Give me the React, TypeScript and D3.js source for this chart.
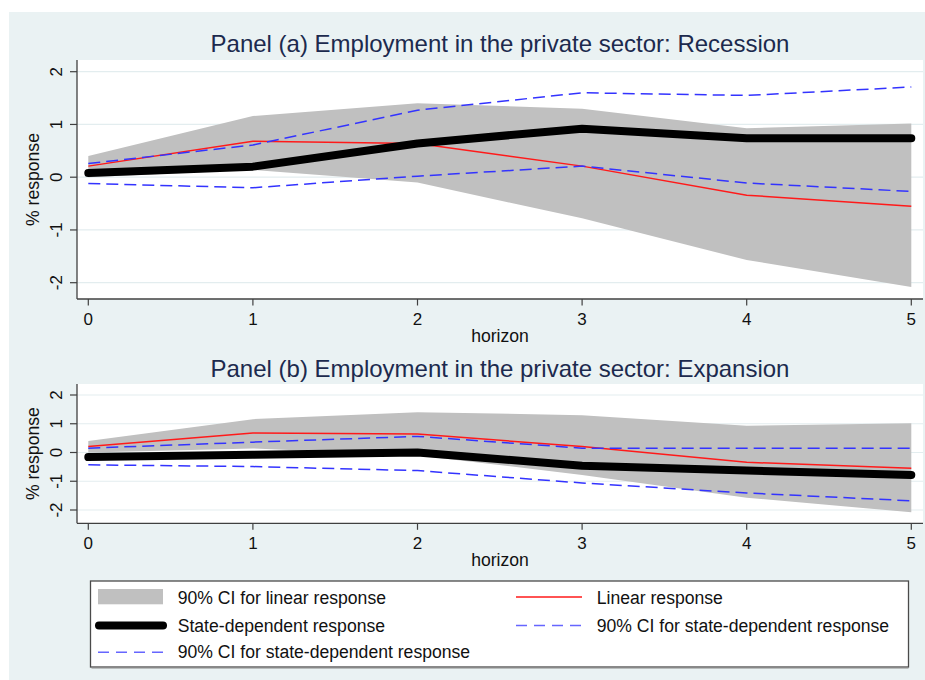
import React from "react";
import * as d3 from "d3";

// Horizons (years after the shock)
const horizons = [0, 1, 2, 3, 4, 5];
const xTicks = [0, 1, 2, 3, 4, 5];
const yTicks = [-2, -1, 0, 1, 2];

// Linear model: point estimate and 90% confidence band (same in both panels)
const linearResponse = [0.21, 0.68, 0.64, 0.21, -0.34, -0.55];
const linearUpper = [0.4, 1.16, 1.4, 1.3, 0.93, 1.02];
const linearLower = [0.0, 0.14, -0.1, -0.78, -1.57, -2.08];

// State-dependent model, recession state
const recessionResponse = [0.08, 0.2, 0.64, 0.92, 0.74, 0.74];
const recessionUpper = [0.26, 0.61, 1.27, 1.6, 1.55, 1.71];
const recessionLower = [-0.12, -0.2, 0.02, 0.21, -0.11, -0.27];

// State-dependent model, expansion state
const expansionResponse = [-0.16, -0.08, 0.0, -0.46, -0.63, -0.78];
const expansionUpper = [0.15, 0.36, 0.56, 0.15, 0.15, 0.15];
const expansionLower = [-0.43, -0.49, -0.63, -1.06, -1.41, -1.68];

const titleA = "Panel (a) Employment in the private sector: Recession";
const titleB = "Panel (b) Employment in the private sector: Expansion";
const legendLabels = [
  "90% CI for linear response",
  "Linear response",
  "State-dependent response",
  "90% CI for state-dependent response",
  "90% CI for state-dependent response",
];

const FONT = "'Liberation Sans', Arial, Helvetica, sans-serif";
const BG = "#eaf2f3";
const BAND = "#c0c0c0";
const RED = "#ff1a1a";
const BLUE = "#3333ff";
const TITLE_COLOR = "#1c2a4e";
const AXIS = "#404040";

const plotLeft = 77;
const plotRight = 923;
const x = d3.scaleLinear().domain([0, 5]).range([88.3, 911.3]);

type PanelProps = {
  title: string;
  top: number;
  bottom: number;
  yRange: [number, number];
  titleY: number;
  state: number[];
  upper: number[];
  lower: number[];
};

function Panel({ title, top, bottom, yRange, titleY, state, upper, lower }: PanelProps) {
  const y = d3.scaleLinear().domain([-2, 2]).range(yRange);
  const line = d3
    .line<number>()
    .x((_, i) => x(horizons[i]))
    .y((d) => y(d));
  const band = d3
    .area<number>()
    .x((_, i) => x(horizons[i]))
    .y0((_, i) => y(linearLower[i]))
    .y1((d) => y(d));
  const midY = (top + bottom) / 2;

  return (
    <g>
      <text
        x={(plotLeft + plotRight) / 2}
        y={titleY}
        textAnchor="middle"
        fontSize={24}
        fill={TITLE_COLOR}
        fontFamily={FONT}
      >
        {title}
      </text>
      <rect x={plotLeft} y={top} width={plotRight - plotLeft} height={bottom - top} fill="#fff" />
      {yTicks.map((t) => (
        <line
          key={"g" + t}
          x1={plotLeft}
          x2={plotRight}
          y1={y(t)}
          y2={y(t)}
          stroke="#e3edef"
          strokeWidth={1.2}
        />
      ))}
      <path d={band(linearUpper) ?? ""} fill={BAND} />
      <path d={line(linearResponse) ?? ""} fill="none" stroke={RED} strokeWidth={1.5} />
      <path
        d={line(state) ?? ""}
        fill="none"
        stroke="#000"
        strokeWidth={8}
        strokeLinecap="round"
        strokeLinejoin="round"
      />
      <path d={line(upper) ?? ""} fill="none" stroke={BLUE} strokeWidth={1.5} strokeDasharray="12 6" />
      <path d={line(lower) ?? ""} fill="none" stroke={BLUE} strokeWidth={1.5} strokeDasharray="12 6" />

      {/* axes */}
      <line x1={plotLeft} x2={plotLeft} y1={top} y2={bottom} stroke={AXIS} strokeWidth={1.3} />
      <line x1={plotLeft} x2={plotRight} y1={bottom} y2={bottom} stroke={AXIS} strokeWidth={1.3} />
      {yTicks.map((t) => (
        <g key={"y" + t}>
          <line x1={plotLeft - 7} x2={plotLeft} y1={y(t)} y2={y(t)} stroke={AXIS} strokeWidth={1.2} />
          <text
            transform={`translate(61.5,${y(t)}) rotate(-90)`}
            textAnchor="middle"
            fontSize={17}
            fill="#111"
            fontFamily={FONT}
          >
            {t}
          </text>
        </g>
      ))}
      {xTicks.map((t) => (
        <g key={"x" + t}>
          <line x1={x(t)} x2={x(t)} y1={bottom} y2={bottom + 6.5} stroke={AXIS} strokeWidth={1.2} />
          <text x={x(t)} y={bottom + 26} textAnchor="middle" fontSize={17} fill="#111" fontFamily={FONT}>
            {t}
          </text>
        </g>
      ))}
      <text
        transform={`translate(39,${midY}) rotate(-90)`}
        textAnchor="middle"
        fontSize={17.6}
        fill="#111"
        fontFamily={FONT}
      >
        % response
      </text>
      <text
        x={(plotLeft + plotRight) / 2}
        y={bottom + 43}
        textAnchor="middle"
        fontSize={17.6}
        fill="#111"
        fontFamily={FONT}
      >
        horizon
      </text>
    </g>
  );
}

function Legend() {
  const left = 90.5;
  const top = 581;
  const w = 818;
  const h = 86;
  const rows = [597, 625.5, 652.3];
  const baselines = [604.3, 631.7, 658.3];
  const leftKey = [98, 163];
  const rightKey = [516, 582];
  const leftText = 177.7;
  const rightText = 596.7;
  const textProps = { fontSize: 17.6, fill: "#111", fontFamily: FONT };
  return (
    <g>
      <rect x={left} y={top} width={w} height={h} fill="#fff" stroke="#4a4a4a" strokeWidth={1.3} />
      <line x1={left + 1} x2={left + w} y1={top + h + 0.8} y2={top + h + 0.8} stroke="#8a8a8a" strokeWidth={1.2} />
      {/* left column */}
      <rect x={leftKey[0]} y={589} width={leftKey[1] - leftKey[0]} height={15.3} fill={BAND} />
      <text x={leftText} y={baselines[0]} {...textProps}>
        {legendLabels[0]}
      </text>
      <line x1={99} x2={163} y1={rows[1]} y2={rows[1]} stroke="#000" strokeWidth={8} strokeLinecap="round" />
      <text x={leftText} y={baselines[1]} {...textProps}>
        {legendLabels[2]}
      </text>
      <line
        x1={leftKey[0]}
        x2={leftKey[1]}
        y1={rows[2]}
        y2={rows[2]}
        stroke={BLUE}
        strokeWidth={1.5}
        strokeDasharray="11 7"
        opacity={0.75}
      />
      <text x={leftText} y={baselines[2]} {...textProps}>
        {legendLabels[4]}
      </text>
      {/* right column */}
      <line x1={rightKey[0]} x2={rightKey[1]} y1={rows[0]} y2={rows[0]} stroke={RED} strokeWidth={1.5} />
      <text x={rightText} y={baselines[0]} {...textProps}>
        {legendLabels[1]}
      </text>
      <line
        x1={rightKey[0]}
        x2={rightKey[1]}
        y1={rows[1]}
        y2={rows[1]}
        stroke={BLUE}
        strokeWidth={1.5}
        strokeDasharray="11 7"
        opacity={0.75}
      />
      <text x={rightText} y={baselines[1]} {...textProps}>
        {legendLabels[3]}
      </text>
    </g>
  );
}

export default function App() {
  return (
    <svg
      width={925}
      height={680}
      style={{ position: "absolute", left: 0, top: 0, display: "block", background: "#fff" }}
    >
      <rect x={9} y={12} width={916} height={668} fill={BG} />
      <Panel
        title={titleA}
        top={60}
        bottom={299}
        yRange={[282.7, 71.7]}
        titleY={52}
        state={recessionResponse}
        upper={recessionUpper}
        lower={recessionLower}
      />
      <Panel
        title={titleB}
        top={384}
        bottom={523.3}
        yRange={[510, 395]}
        titleY={376.5}
        state={expansionResponse}
        upper={expansionUpper}
        lower={expansionLower}
      />
      <Legend />
    </svg>
  );
}
